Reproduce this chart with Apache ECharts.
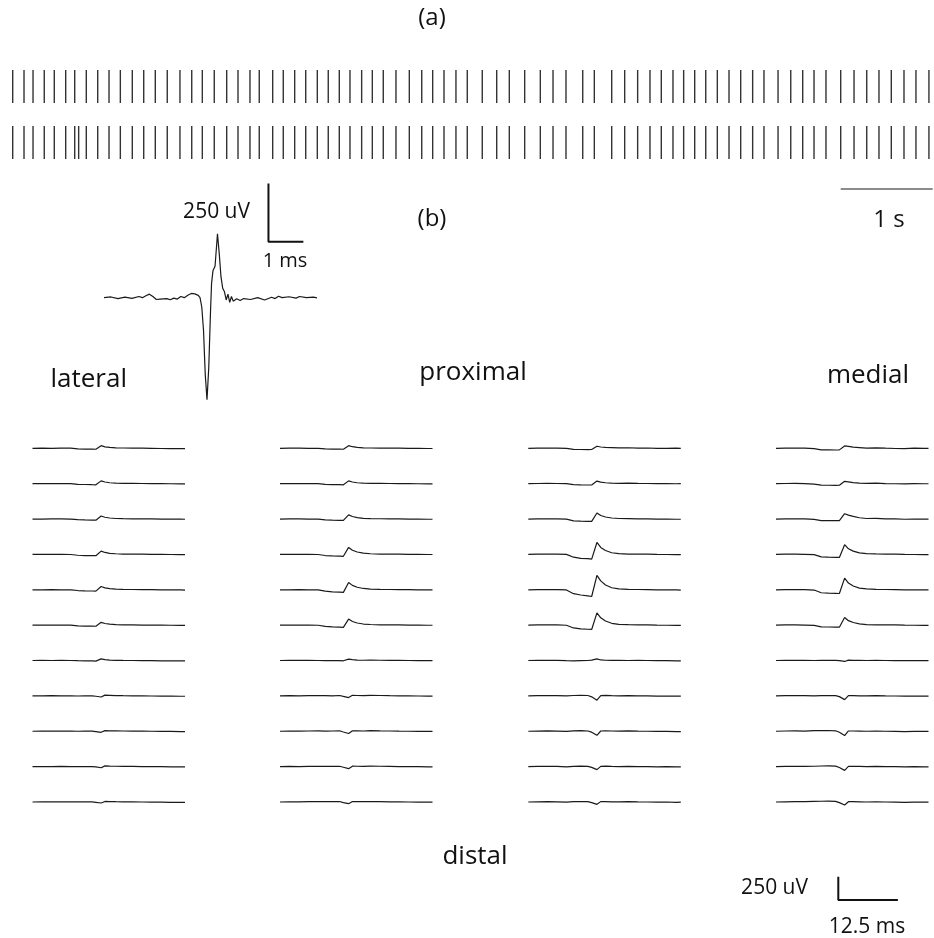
<!DOCTYPE html>
<html><head><meta charset="utf-8">
<script src="https://cdn.jsdelivr.net/npm/echarts@6/dist/echarts.min.js"></script>
<style>html,body{margin:0;padding:0;background:#fff}#c{width:934px;height:938px}</style>
</head><body><div id="c"></div>
<script>
// ---------- DATA ----------
// (a) spike raster times, seconds
var spikeTimesA = [0, 0.123, 0.221, 0.343, 0.452, 0.576, 0.674, 0.800, 0.924, 1.047, 1.170, 1.300, 1.424, 1.550, 1.680, 1.818, 1.946, 2.061, 2.191, 2.326, 2.449, 2.579, 2.680, 2.826, 2.941, 3.065, 3.185, 3.311, 3.430, 3.550, 3.666, 3.793, 3.909, 4.028, 4.166, 4.311, 4.446, 4.565, 4.688, 4.818, 4.941, 5.104, 5.261, 5.398, 5.565, 5.735, 5.873, 6.014, 6.196, 6.322, 6.511, 6.652, 6.793, 6.927, 7.050, 7.177, 7.293, 7.413, 7.533, 7.659, 7.786, 7.913, 8.043, 8.166, 8.319, 8.457, 8.587, 8.710, 8.840, 9.000, 9.145, 9.283, 9.416, 9.550, 9.688, 9.818, 9.959];
var spikeTimesB = [0, 0.123, 0.221, 0.343, 0.452, 0.576, 0.674, 0.717, 0.800, 0.924, 1.047, 1.170, 1.300, 1.424, 1.550, 1.680, 1.818, 1.946, 2.061, 2.191, 2.326, 2.449, 2.579, 2.680, 2.826, 2.941, 3.065, 3.185, 3.311, 3.430, 3.550, 3.666, 3.793, 3.909, 4.028, 4.166, 4.311, 4.446, 4.565, 4.688, 4.818, 4.941, 5.104, 5.261, 5.398, 5.565, 5.735, 5.873, 6.014, 6.196, 6.322, 6.511, 6.652, 6.793, 6.927, 7.050, 7.177, 7.293, 7.413, 7.533, 7.659, 7.786, 7.913, 8.043, 8.166, 8.319, 8.457, 8.587, 8.710, 8.840, 9.000, 9.145, 9.283, 9.416, 9.550, 9.688, 9.818, 9.959];
var secondBar = [9, 10];

// (b) inset waveform: [ms, uV]
var waveform = [[0,0],[0.2,3],[0.4,-4],[0.6,2],[0.8,-3],[1.0,5],[1.1,0],[1.2,8],[1.3,15],[1.4,5],[1.5,-8],[1.6,-6],[1.8,-4],[1.9,-9],[2.0,-2],[2.1,-6],[2.2,5],[2.3,0],[2.4,10],[2.5,18],[2.55,12],[2.6,16],[2.7,10],[2.75,0],[2.8,-40],[2.85,-140],[2.9,-330],[2.95,-438],[3.0,-300],[3.05,-60],[3.08,60],[3.12,115],[3.18,135],[3.25,274],[3.3,190],[3.35,90],[3.4,40],[3.45,25],[3.5,-10],[3.55,15],[3.6,-20],[3.65,5],[3.7,-15],[3.8,-5],[3.9,-12],[4.0,-4],[4.2,-8],[4.4,0],[4.6,-10],[4.8,2],[4.9,-4],[5.0,6],[5.1,0],[5.3,4],[5.5,-2],[5.6,5],[5.8,0],[6.0,2],[6.1,-1]];
var insetBarUV = 250, insetBarMs = 1;

// electrode grid traces: shared time base (ms) and values (uV)
var traceTimes = [0, 2, 4, 6, 8, 9.5, 11, 12.5, 13.3, 14.4, 15.2, 16.2, 17.5, 19, 21, 23, 25, 27, 29, 31, 32];
var lateralCol = [
 [0,1,0,2,1,-6,-8,-9,-10,28,16,9,5,3,2,1,0,-2,-3,-4,-4],
 [0,1,1,0,0,-7,-9,-11,-12,30,18,10,6,4,3,2,1,0,-1,-2,-2],
 [0,0,1,1,0,-7,-10,-11,-12,32,19,11,6,4,2,2,1,0,-1,-1,-2],
 [0,1,0,0,-1,-9,-12,-13,-14,35,21,12,7,4,3,2,1,0,-1,-2,-2],
 [0,0,1,0,-1,-8,-12,-13,-14,35,20,12,7,4,3,2,1,0,-1,-2,-3],
 [0,1,0,1,0,-7,-10,-11,-12,30,18,10,6,3,2,1,0,0,-1,-2,-2],
 [0,1,0,1,0,-2,-3,-4,-6,18,10,4,2,1,0,-1,-2,-3,-3,-4,-4],
 [0,1,2,1,0,-1,0,1,-4,-12,8,6,3,2,1,0,-1,-2,-3,-4,-4],
 [0,1,2,2,1,0,1,2,-3,-11,7,5,4,3,2,1,0,-1,-2,-3,-3],
 [0,1,1,2,1,0,1,1,-3,-12,8,6,4,3,2,1,0,-1,-2,-3,-3],
 [0,1,2,2,1,1,2,1,-4,-11,6,5,3,2,1,0,-1,-2,-3,-4,-4]
];
var proxLeftCol = [
 [0,1,1,0,0,-6,-8,-9,-10,28,17,9,5,3,2,2,1,0,-1,-2,-2],
 [0,1,1,1,0,-7,-10,-11,-12,30,18,10,6,4,3,2,1,0,-1,-2,-2],
 [0,1,1,0,-1,-9,-12,-14,-15,45,27,15,8,5,3,2,1,0,-1,-2,-2],
 [0,1,0,0,-1,-12,-16,-18,-20,75,45,26,13,7,4,3,2,1,0,-1,-1],
 [0,0,1,0,-1,-15,-22,-25,-28,78,47,27,14,8,5,3,2,1,0,-1,-1],
 [0,1,0,1,-1,-14,-19,-22,-24,65,39,23,12,7,4,3,2,1,0,-1,-1],
 [0,1,2,1,0,-1,-1,-2,-3,15,9,5,3,4,3,2,1,0,-1,-2,-2],
 [0,2,1,2,3,2,1,4,-6,-18,6,4,3,5,4,2,1,0,-1,-2,-2],
 [0,2,1,3,4,2,3,5,-8,-24,5,5,3,6,4,3,1,0,-1,-2,-2],
 [0,2,1,3,4,2,3,4,-7,-22,5,4,3,6,4,3,1,0,-1,-2,-2],
 [0,1,2,3,4,3,4,5,-6,-18,5,4,3,5,4,2,1,0,-1,-2,-2]
];
var proxRightCol = [
 [0,2,3,2,0,-12,-13,-14,-13,22,14,10,8,5,6,2,3,0,-1,1,-1],
 [0,2,3,2,0,-11,-13,-14,-14,28,17,10,6,4,6,3,2,0,2,-1,0],
 [0,2,3,2,-1,-20,-23,-24,-25,65,38,22,11,6,4,2,1,-1,0,-2,-2],
 [0,2,3,2,0,-30,-42,-46,-50,128,75,42,18,8,4,3,2,0,-1,-2,-2],
 [0,2,3,1,-2,-42,-56,-66,-72,155,95,52,22,10,5,3,2,0,-1,-2,-3],
 [0,2,3,2,-1,-30,-40,-44,-46,132,78,44,20,9,5,3,2,0,-1,-2,-2],
 [0,2,3,1,-2,-3,-1,0,4,18,6,3,1,2,0,1,0,-2,-1,-3,-3],
 [0,2,4,3,0,4,6,4,-10,-46,2,5,3,1,3,1,0,-2,-1,-3,-3],
 [0,2,4,2,-1,4,6,3,-10,-43,3,5,3,1,4,1,0,-2,-1,-3,-3],
 [0,2,4,2,-2,3,5,3,-8,-32,3,5,2,1,3,1,0,-2,-1,-3,-3],
 [0,2,4,2,-1,3,5,4,-6,-25,4,4,2,1,3,1,0,-2,0,-3,-2]
];
var medialCol = [
 [0,2,3,1,-4,-16,-17,-18,-17,25,20,12,8,2,5,1,-2,-3,1,-1,-1],
 [0,2,3,1,-4,-16,-17,-18,-17,25,20,12,6,3,5,1,-1,-3,0,-1,-1],
 [0,2,3,1,-3,-16,-17,-18,-18,57,42,28,14,6,7,2,1,-2,0,-1,-1],
 [0,2,3,1,-2,-26,-29,-31,-32,104,60,35,16,8,5,3,2,0,-1,-2,-2],
 [0,2,3,1,-3,-32,-36,-38,-40,125,72,40,18,9,5,3,2,0,-1,-2,-2],
 [0,2,3,1,-2,-18,-20,-21,-22,82,48,28,13,6,4,3,2,0,-1,-2,-2],
 [0,1,2,1,0,1,2,1,-2,-10,4,2,1,0,1,0,-1,-2,0,-2,-2],
 [0,2,3,2,0,3,4,3,-8,-40,2,2,1,0,2,0,-1,-3,-1,-2,-2],
 [0,3,4,2,6,7,8,5,-10,-46,3,3,2,0,2,0,-1,-3,-1,-2,-2],
 [0,2,4,3,4,7,9,6,-9,-40,3,3,2,0,2,0,-1,-3,-1,-2,-2],
 [0,2,4,3,6,8,10,7,-7,-32,3,3,2,0,2,0,-1,-3,-1,-2,-2]
];
var columns = [lateralCol, proxLeftCol, proxRightCol, medialCol];
var gridBarUV = 250, gridBarMs = 12.5;

// ---------- LAYOUT ----------
var grids = [], xAxes = [], yAxes = [], series = [];
function addGrid(g, xr, yr) {
  var i = grids.length;
  grids.push(Object.assign({containLabel:false, show:false}, g));
  xAxes.push({type:'value', gridIndex:i, min:xr[0], max:xr[1], show:false});
  yAxes.push({type:'value', gridIndex:i, min:yr[0], max:yr[1], show:false});
  return i;
}
var INK = '#1a1a1a';

// raster rows
function rasterSeries(idx, times) {
  return {
    type:'custom', xAxisIndex:idx, yAxisIndex:idx, silent:true,
    data: times.map(function(t){return [t, 0];}),
    encode:{x:0, y:1},
    renderItem:function(params, api){
      var t = api.value(0);
      var a = api.coord([t, 0]), b = api.coord([t, 1]);
      return {type:'line', shape:{x1:a[0], y1:a[1], x2:b[0], y2:b[1]}, style:{stroke:'#333', lineWidth:1.4}};
    }
  };
}
var rA = addGrid({left:3.5, top:70, width:929.2, height:33}, [-0.1, 10], [0, 1]);
series.push(rasterSeries(rA, spikeTimesA));
var rB = addGrid({left:3.5, top:126, width:929.2, height:33}, [-0.1, 10], [0, 1]);
series.push(rasterSeries(rB, spikeTimesB));
var rS = addGrid({left:3.5, top:172, width:929.2, height:34}, [-0.1, 10], [-1, 1]);
series.push({type:'line', xAxisIndex:rS, yAxisIndex:rS, symbol:'none', silent:true,
  data: secondBar.map(function(t){return [t, 0];}), lineStyle:{color:INK, width:1.2}});

// inset waveform
var ins = addGrid({left:104, top:227.7, width:213, height:174.9}, [0, 6.1], [-450, 300]);
series.push({type:'line', xAxisIndex:ins, yAxisIndex:ins, symbol:'none', silent:true, clip:false,
  data: waveform, lineStyle:{color:INK, width:1.2}});
var insBarX = 4.71, insBarY = 240;
series.push({type:'line', xAxisIndex:ins, yAxisIndex:ins, symbol:'none', silent:true, clip:false,
  data: [[insBarX, insBarY + insetBarUV], [insBarX, insBarY], [insBarX + insetBarMs, insBarY]],
  lineStyle:{color:'#111', width:2}});

// electrode grid
var colLeft = [32.5, 280, 528.3, 776];
for (var c = 0; c < columns.length; c++) {
  for (var r = 0; r < columns[c].length; r++) {
    var base = 448.3 + r * 35.37;
    var gi = addGrid({left:colLeft[c], top:base - 17, width:152.5, height:34}, [0, 32], [-182, 182]);
    var vals = columns[c][r];
    series.push({type:'line', xAxisIndex:gi, yAxisIndex:gi, symbol:'none', silent:true, clip:false,
      data: traceTimes.map(function(t, k){return [t, vals[k]];}),
      lineStyle:{color:INK, width:1.2}});
  }
}
// bottom scale bar
var sb = addGrid({left:838.3, top:883, width:76.25, height:34}, [0, 16], [-182, 182]);
series.push({type:'line', xAxisIndex:sb, yAxisIndex:sb, symbol:'none', silent:true, clip:false,
  data: [[0, gridBarUV], [0, 0], [gridBarMs, 0]], lineStyle:{color:'#111', width:2}});

// texts
var FONT = '"Open Sans", "Noto Sans", sans-serif';
function txt(s, x, y, size, align) {
  return {type:'text', x:x, y:y, silent:true,
    style:{text:s, font: size + 'px ' + FONT, fill:'#111', align:align || 'center', verticalAlign:'middle',
           textAlign:align || 'center', textVerticalAlign:'middle'}};
}
var graphics = [
  txt('(a)', 432, 18, 24),
  txt('(b)', 432, 219, 24),
  txt('1 s', 889, 220, 24),
  txt('250 uV', 250, 212, 21, 'right'),
  txt('1 ms', 285, 261, 20),
  txt('lateral', 127, 380, 26, 'right'),
  txt('proximal', 473, 373, 26),
  txt('medial', 868, 376, 26),
  txt('distal', 475, 857, 26),
  txt('250 uV', 808, 888, 21, 'right'),
  txt('12.5 ms', 867, 927, 21)
];

var chart = echarts.init(document.getElementById('c'), null, {renderer:'canvas'});
chart.setOption({
  animation:false,
  backgroundColor:'#fff',
  grid:grids, xAxis:xAxes, yAxis:yAxes, series:series,
  graphic:graphics
});
</script></body></html>
